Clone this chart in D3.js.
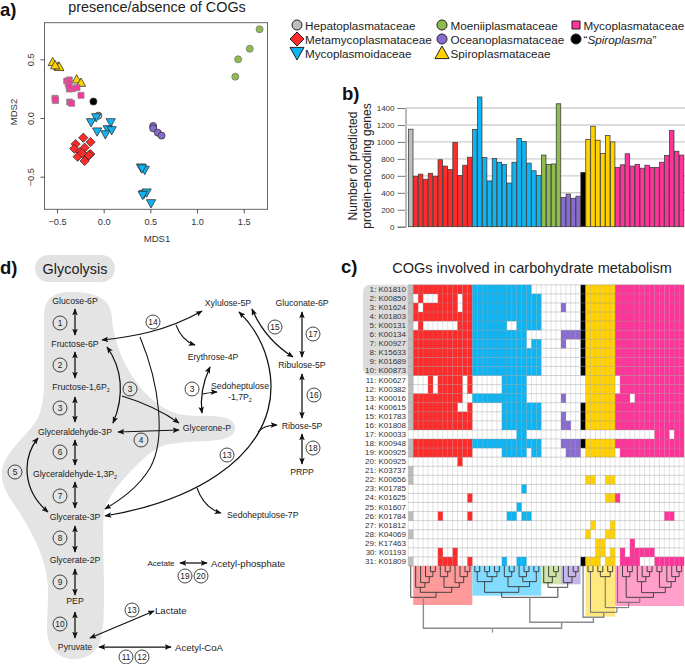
<!DOCTYPE html>
<html><head><meta charset="utf-8">
<script src="https://cdn.jsdelivr.net/npm/d3@7"></script>
<style>
html,body{margin:0;padding:0;background:#fff}
svg{display:block}
text{font-family:"Liberation Sans",Arial,sans-serif}
</style></head><body><svg id="c" width="685" height="664"></svg>
<script>
// ---------- data ----------
const families = ["Hepatoplasmataceae","Metamycoplasmataceae","Mycoplasmoidaceae","Moeniiplasmataceae","Oceanoplasmataceae","Spiroplasmataceae","Mycoplasmataceae","Spiroplasma"];
const familySymbols = ["circle","diamond","triDown","circle","circle","triUp","square","circle"];
const familyColors = ["#bdbdbd","#ff2b2b","#0fb4f2","#8fbd4c","#8a6bd0","#ffd200","#ff3399","#000000"];

const mdsHepato = [[-0.057,0.02]];
const mdsMeta = [[-0.218,-0.168],[-0.14,-0.205],[-0.3,-0.222],[-0.315,-0.261],[-0.204,-0.253],[-0.254,-0.29],[-0.279,-0.33],[-0.143,-0.307],[-0.175,-0.33],[-0.16,-0.318],[-0.204,-0.366],[-0.23,-0.3]];
const mdsMycoides = [[-0.08,0.005],[-0.135,-0.037],[0.075,-0.037],[-0.07,-0.116],[0.043,-0.097],[0.085,-0.105],[0.018,-0.14],[0.4,-0.423],[0.44,-0.443],[0.43,-0.648],[0.46,-0.636],[0.507,-0.727],[0.418,-0.656],[0.41,-0.43]];
const mdsMoenii = [[1.67,0.756],[1.565,0.59],[1.44,0.5],[1.41,0.352]];
const mdsOcean = [[0.53,-0.068],[0.53,-0.088],[0.58,-0.125],[0.62,-0.15]];
const mdsSpiro = [[-0.546,0.477],[-0.486,0.44],[-0.476,0.437],[-0.289,0.33],[-0.243,0.301],[-0.52,0.45]];
const mdsMyco = [[-0.396,0.315],[-0.368,0.324],[-0.379,0.29],[-0.368,0.247],[-0.286,0.259],[-0.243,0.193],[-0.521,0.168],[-0.515,0.148],[-0.364,0.136],[-0.343,0.125],[-0.37,0.3],[-0.33,0.25],[-0.52,0.16],[-0.37,0.27]];
const mdsSpiroplasma = [[-0.11,0.14]];
const mdsByFamily = [mdsHepato,mdsMeta,mdsMycoides,mdsMoenii,mdsOcean,mdsSpiro,mdsMyco,mdsSpiroplasma];
const mdsDrawOrder = [0,1,3,4,5,6,7,2];
const xTicksA = [-0.5,0,0.5,1,1.5];
const yTicksA = [-0.5,0,0.5];

const genesHepato = [1150];
const genesMeta = [595,620,560,630,595,790,715,675,995,605,725,820];
const genesMycoides = [1145,1530,815,540,805,760,735,515,760,1040,1005,750,660,605];
const genesMoenii = [845,735,740,1450];
const genesOcean = [345,385,335,360];
const genesSpiroplasma = [640];
const genesSpiro = [1030,1185,1020,865,1075,1000];
const genesMyco = [700,730,860,715,735,690,725,700,700,760,840,1135,890,845];
const genesOrder = [[genesHepato,0],[genesMeta,1],[genesMycoides,2],[genesMoenii,3],[genesOcean,4],[genesSpiroplasma,7],[genesSpiro,5],[genesMyco,6]];
const yTicksB = [0,200,400,600,800,1000,1200,1400];

const cogLabels = ["K01810","K00850","K01624","K01803","K00131","K00134","K00927","K15633","K01689","K00873","K00627","K00382","K00016","K00615","K01783","K01808","K00033","K00948","K00925","K00925","K03737","K00656","K01785","K01625","K01607","K01784","K01812","K04069","K17463","K01193","K01809"];
// present genome columns per COG (single indexes or [from,to] ranges)
const cogPresence = [
 [[0,24],[35,55]],
 [0,2,[6,9],[11,26],[35,55]],
 [0,1,[3,9],[11,26],31,[35,55]],
 [[0,26],[35,55]],
 [0,2,[10,19],[22,26],[35,55]],
 [[0,23],[31,55]],
 [[0,23],25,26,31,[35,55]],
 [[0,26],[35,55]],
 [[0,26],[35,55]],
 [[0,26],[35,55]],
 [0,4,[6,10],12,[19,23],[36,41],[43,55]],
 [0,4,[6,10],12,[19,23],[36,41],[43,55]],
 [[0,10],[13,23],31,[36,44],[46,55]],
 [[0,9],12,[19,26],[35,55]],
 [[0,12],[19,26],31,[35,55]],
 [[0,12],[19,26],31,32,[35,55]],
 [22,23,[50,52],54,55],
 [[0,26],[31,55]],
 [[0,12],[19,23],25,26,[32,34],[36,41],[43,55]],
 [10],
 [0],
 [0,36,37,40,41],
 [23],
 [12,40,41,42],
 [22],
 [0,6,12,20,21,23,24,52,53],
 [37,41],
 [0,36,40,41],
 [38,39,45],
 [6,9,38,39,41,43,[45,49]],
 [0,[6,9],12,19,22,23,35,36,37,38,40,41,[43,46],[50,55]]
];
// dendrogram: [merge depth, left, right]; leaves are genome column indexes
const treeMetaLeft = [82,1,[68,2,[50,3,[35,4,5]]]];
const treeMetaRight = [82,[50,6,[35,7,8]],[68,9,[50,10,[35,11,12]]]];
const treeMeta = [112,0,[97,treeMetaLeft,treeMetaRight]];
const treeMycoides = [97,[65,[35,13,14],[50,[35,15,16],[35,17,18]]],[80,[50,19,[35,20,21]],[65,[50,22,[35,23,24]],[35,25,26]]]];
const treeMoenii = [68,27,[50,28,[35,29,30]]];
const treeOcean = [68,31,[50,32,[35,33,34]]];
const treeSpiro1 = [35,36,37];
const treeSpiro2 = [50,[35,38,39],[35,40,41]];
const treeMyco = [127,42,[112,[50,43,[35,44,45]],[98,[65,46,[50,47,[35,48,49]]],[82,[35,50,51],[65,52,[50,53,[35,54,55]]]]]]];
const treeRest = [187,[112,treeMycoides,[82,treeMoenii,treeOcean]],[172,35,[157,treeSpiro1,[143,treeSpiro2,treeMyco]]]];
const treeRoot = [205,treeMeta,treeRest];
const treeBands = [[1,12,135],[13,26,107],[27,30,73],[31,34,73],[36,41,170],[42,55,138]];
const treeBandColors = ["#ff9a9a","#82dcff","#d0e4a9","#c6b6e9","#ffe97e","#ff9fca"];

// ---------- helpers ----------
const svg = d3.select("#c");
function addSym(g, kind, x, y, r, fill, stroke, sw){
  let d;
  if(kind==="circle") d=`M${x-r},${y}a${r},${r} 0 1,0 ${2*r},0a${r},${r} 0 1,0 ${-2*r},0Z`;
  if(kind==="diamond"){const q=r*1.25;d=`M${x},${y-q}L${x+q},${y}L${x},${y+q}L${x-q},${y}Z`;}
  if(kind==="square") d=`M${x-r},${y-r}h${2*r}v${2*r}h${-2*r}Z`;
  if(kind==="triUp"){const q=r*1.25;d=`M${x},${y-q}L${x+q},${y+q*.8}L${x-q},${y+q*.8}Z`;}
  if(kind==="triDown"){const q=r*1.25;d=`M${x},${y+q}L${x+q},${y-q*.8}L${x-q},${y-q*.8}Z`;}
  g.append("path").attr("d",d).attr("fill",fill).attr("stroke",stroke).attr("stroke-width",sw);
}
function label(t,x,y,size,opts={}){
  const s=svg.append("text").attr("x",x).attr("y",y).attr("font-size",size).attr("fill",opts.fill||"#111")
   .attr("text-anchor",opts.anchor||"start").attr("dominant-baseline","central");
  if(opts.weight) s.attr("font-weight",opts.weight);
  if(opts.rot!==undefined) s.attr("transform",`rotate(${opts.rot} ${x} ${y})`);
  s.text(t); return s;
}
label("a)",0,9,18.5,{weight:"bold"});
label("b)",342,93,18.5,{weight:"bold"});
label("c)",341,266,18.5,{weight:"bold"});
label("d)",0,267,18.5,{weight:"bold"});

// ---------- panel a ----------
label("presence/absence of COGs",157,7,14.4,{anchor:"middle",fill:"#222"});
const xA=d3.scaleLinear().domain([-0.5,1.5]).range([57,243.7]);
const yA=d3.scaleLinear().domain([-0.5,0.5]).range([176.7,59.3]);
const gA=svg.append("g");
mdsDrawOrder.forEach(i=>{
  const sizes={circle:3.5,diamond:3.7,triDown:3.7,triUp:3.7,square:3};
  mdsByFamily[i].forEach(p=>{
    const st=(i===6)?"#8a8a8a":(i===3?"#777":"#333");
    addSym(gA,familySymbols[i],xA(p[0]),yA(p[1]),sizes[familySymbols[i]],familyColors[i],st,0.8);
  });
});
const ax=svg.append("g").attr("transform","translate(0,209.3)").call(d3.axisBottom(xA).tickValues(xTicksA).tickSize(4).tickFormat(d3.format(".1f")));
const ay=svg.append("g").attr("transform","translate(44.5,0)").call(d3.axisLeft(yA).tickValues(yTicksA).tickSize(4).tickFormat(d3.format(".1f")));
[ax,ay].forEach(a=>{a.select(".domain").remove();a.selectAll("line").attr("stroke","#555");a.selectAll("text").attr("font-size",9.2).attr("fill","#333");});
ax.selectAll("text").attr("dy","0.9em");
ay.selectAll("text").attr("transform","rotate(-90)").attr("x",0).attr("y",-11).attr("dy",0).attr("text-anchor","middle");
svg.append("rect").attr("x",44.5).attr("y",22.7).attr("width",223).attr("height",186.6).attr("fill","none").attr("stroke","#555").attr("stroke-width",0.9);
label("MDS1",157,238,9.6,{anchor:"middle",fill:"#333"});
label("MDS2",13,112,9.6,{anchor:"middle",rot:-90,fill:"#333"});

// legend
const legendLayout=[[297,305,25],[297,305,39],[297,305,53],[442,450.5,25],[442,450.5,39],[442,450.5,53],[576,583.5,25],[576,583.5,39]];
const gL=svg.append("g");
families.forEach((f,i)=>{
  const [sx,tx,y]=legendLayout[i];
  const k=familySymbols[i];
  addSym(gL,k,sx,y,k==="square"?4:(k==="circle"?5:5.6),familyColors[i],"#222",1);
  if(i===7){
    const t=label("",tx,y,11.7,{fill:"#222"});
    t.append("tspan").text("“");
    t.append("tspan").attr("font-style","italic").text(f);
    t.append("tspan").text("”");
  } else label(f,tx,y,11.7,{fill:"#222"});
});

// ---------- panel b ----------
const colCount=56, heatL=408.3, colW=4.924;
const xCol=d3.scaleLinear().domain([0,colCount]).range([heatL,heatL+colCount*colW]);
const yB=d3.scaleLinear().domain([0,1400]).range([226.7,108]);
const axB=svg.append("g").attr("transform","translate(405.5,0)").call(d3.axisLeft(yB).tickValues(yTicksB).tickSize(8).tickFormat(d3.format("d")));
axB.select(".domain").attr("stroke","#777");
axB.selectAll("line").attr("stroke","#777");
axB.selectAll("text").attr("font-size",8).attr("fill","#333");
svg.append("g").selectAll("line").data(yTicksB.slice(1)).join("line")
  .attr("x1",405.5).attr("x2",685).attr("y1",d=>yB(d)).attr("y2",d=>yB(d)).attr("stroke","#cfcfcf").attr("stroke-width",1.4);
const barRows=[];let col=0;
genesOrder.forEach(([arr,fam])=>arr.forEach(v=>barRows.push({c:col++,v,fam})));
svg.append("g").selectAll("rect").data(barRows).join("rect")
  .attr("x",d=>xCol(d.c)+0.2).attr("width",colW-0.4).attr("y",d=>yB(d.v)).attr("height",d=>yB(0)-yB(d.v))
  .attr("fill",d=>familyColors[d.fam]).attr("stroke","#3a3a3a").attr("stroke-width",0.75);
label("Number of predicted",353,166,12,{anchor:"middle",rot:-90,fill:"#222"});
label("protein-encoding genes",367,166,12,{anchor:"middle",rot:-90,fill:"#222"});

// ---------- panel c ----------
label("COGs involved in carbohydrate metabolism",532,268,14.5,{anchor:"middle",fill:"#222"});
const rowH=9.07, heatT=284.8;
const yRow=d3.scaleLinear().domain([0,31]).range([heatT,heatT+31*rowH]);
svg.append("rect").attr("x",363).attr("y",heatT).attr("width",50).attr("height",rowH*10).attr("rx",7).attr("fill","#dcdcdc");
function famOfCol(c){ let n=0; for(const [arr,f] of genesOrder){ n+=arr.length; if(c<n) return f; } }
const cells=[];
cogPresence.forEach((row,r)=>row.forEach(e=>{
  const [a,b]=Array.isArray(e)?e:[e,e];
  for(let c=a;c<=b;c++) cells.push({r,c});
}));
svg.append("rect").attr("x",heatL).attr("y",heatT).attr("width",colCount*colW).attr("height",31*rowH).attr("fill","#fff");
svg.append("g").selectAll("rect").data(cells).join("rect")
  .attr("x",d=>xCol(d.c)).attr("width",colW+0.1).attr("y",d=>yRow(d.r)).attr("height",rowH+0.1)
  .attr("fill",d=>familyColors[famOfCol(d.c)]);
const gGrid=svg.append("g").attr("stroke","#8f8f8f");
gGrid.selectAll("line.h").data(d3.range(32)).join("line").attr("class","h")
  .attr("x1",heatL).attr("x2",heatL+colCount*colW).attr("y1",d=>yRow(d)).attr("y2",d=>yRow(d)).attr("stroke-width",0.6).attr("stroke-opacity",0.65);
gGrid.selectAll("line.v").data(d3.range(colCount+1)).join("line").attr("class","v")
  .attr("x1",d=>xCol(d)).attr("x2",d=>xCol(d)).attr("y1",heatT).attr("y2",heatT+31*rowH).attr("stroke-width",0.5).attr("stroke-opacity",0.5);
svg.append("g").selectAll("text").data(cogLabels).join("text")
  .attr("x",406).attr("y",(d,i)=>yRow(i+0.5)).attr("text-anchor","end").attr("dominant-baseline","central")
  .attr("font-size",8).attr("fill","#333").text((d,i)=>`${i+1}: ${d}`);

// dendrogram
const yTree=d3.scaleLinear().domain([0,205]).range([560,628.3]);
const colC=c=>xCol(c+0.5), treeTop=566;
svg.append("g").selectAll("rect").data(treeBands).join("rect")
  .attr("x",d=>xCol(d[0])).attr("width",d=>xCol(d[1]+1)-xCol(d[0]))
  .attr("y",treeTop).attr("height",d=>yTree(d[2])-treeTop)
  .attr("fill",(d,i)=>treeBandColors[i]);
const gT=svg.append("g").attr("fill","none");
function drawTree(n){
  if(typeof n==="number") return {x:colC(n),y:treeTop};
  const l=drawTree(n[1]), r=drawTree(n[2]), y=yTree(n[0]);
  const heavy=n[0]>=172, mid=n[0]>=127;
  const st=heavy?"#8c8c8c":(mid?"#666":"#3c3c3c");
  gT.append("path").attr("d",`M${l.x},${l.y}V${y}H${r.x}V${r.y}`).attr("stroke",st).attr("stroke-width",heavy?1.4:0.95);
  return {x:(l.x+r.x)/2,y};
}
const rootPos=drawTree(treeRoot);
gT.append("path").attr("d",`M${rootPos.x},${rootPos.y}V${yTree(218)}`).attr("stroke","#8c8c8c").attr("stroke-width",1.2);

// ---------- panel d ----------
const blobPath="M44,316 C44,298 55,292 70,292 C92,292 111,296 112,318 C113,338 122,362 136,382 C148,398 160,408 178,414 C192,417 210,415 222,417 C232,419 236,424 235,430 C233,438 222,440 208,441 C190,442 172,442 160,447 C150,452 143,459 134,468 C120,482 108,496 104,512 C102,530 104,560 104,590 C104,612 104,632 99,645 C92,657 80,660 70,659 C55,656 47,646 47,628 C47,608 50,590 46,572 C42,552 32,532 18,510 C10,498 0,486 2,470 C4,457 20,440 32,427 C42,415 44,400 44,380 Z";
const gD=svg.append("g");
gD.append("path").attr("d",blobPath).attr("fill","#e4e4e4");
gD.append("rect").attr("x",35).attr("y",255).attr("width",80).attr("height",27).attr("rx",13.5).attr("fill","#e2e2e2");
label("Glycolysis",75,269,14.4,{anchor:"middle",fill:"#222"});

const defs=svg.append("defs");
defs.append("marker").attr("id","ah").attr("viewBox","0 0 10 8").attr("refX",9).attr("refY",4)
  .attr("markerWidth",7).attr("markerHeight",5.6).attr("markerUnits","userSpaceOnUse").attr("orient","auto-start-reverse")
  .append("path").attr("d","M0,0L10,4L0,8L2.2,4Z").attr("fill","#111");

const pathwayText=[
 ["Glucose-6P",75,300.7,8.7,"middle"],["Fructose-6P",75,344,8.7,"middle"],["Glyceraldehyde-3P",75,432,8.7,"middle"],
 ["Glycerone-P",207,428,8.7,"middle"],["Glycerate-3P",75,517,8.7,"middle"],["Glycerate-2P",75,560,8.7,"middle"],
 ["PEP",75,601,8.7,"middle"],["Pyruvate",75,647,8.7,"middle"],["Lactate",155,610,9.6,"start"],["Acetyl-CoA",175,647,9.6,"start"],
 ["Acetate",161,563,8,"middle"],["Acetyl-phosphate",211,563,9.6,"start"],["Sedoheptulose-7P",227,515,8.7,"start"],
 ["PRPP",302,472,8.7,"middle"],["Ribose-5P",302,426,8.7,"middle"],["Ribulose-5P",302,365,8.7,"middle"],
 ["Gluconate-6P",302,303,8.7,"middle"],["Xylulose-5P",228,303,8.7,"middle"],["Erythrose-4P",213,357,8.7,"middle"],
 ["Sedoheptulose",240,386,8.7,"middle"]
];
pathwayText.forEach(([t,x,y,s,a])=>label(t,x,y,s,{anchor:a,fill:"#222"}));
function subLabel(base,sub,x,y,anchor){
  const t=label("",x,y,8.7,{anchor,fill:"#222"});
  t.append("tspan").text(base);
  t.append("tspan").attr("font-size",5.5).attr("dy",2.5).text(sub);
}
subLabel("Fructose-1,6P","2",81,387,"middle");
subLabel("Glyceraldehyde-1,3P","2",75,474,"middle");
subLabel("-1,7P","2",240,397,"middle");

const straightDouble=[[75,309,75,335],[75,352,75,378],[75,397,75,422],[75,440,75,465],[75,482,75,508],[75,526,75,552],[75,569,75,595],[75,612,75,638],
 [302,312,302,357],[302,374,302,418],[302,434,302,464],[180,563,207,563],[90,638,154,611],[99,647,171,647],[118,432,179,430]];
const gA2=gD.append("g").attr("fill","none").attr("stroke","#111").attr("stroke-width",1.25);
straightDouble.forEach(([a,b,c,d])=>gA2.append("line").attr("x1",a).attr("y1",b).attr("x2",c).attr("y2",d)
  .attr("marker-start","url(#ah)").attr("marker-end","url(#ah)"));
const curvedDouble=[
 "M102,340 C130,337 165,332 202,311",
 "M107,347 C122,368 125,395 113,423",
 "M38,438 C22,458 22,490 48,512",
 "M210,367 C203,382 200,398 202,413",
 "M239,312 C268,340 276,380 268,410 C255,458 200,500 105,516",
 "M252,309 C260,328 274,345 293,357"
];
curvedDouble.forEach(d=>gA2.append("path").attr("d",d).attr("marker-start","url(#ah)").attr("marker-end","url(#ah)"));
const curvedSingle=[
 "M140,337 C160,385 166,440 150,468 C138,488 120,500 105,509",
 "M176,325 C180,336 186,342 195,345",
 "M122,396 C145,403 165,413 179,423",
 "M203,394 C208,393 212,392 217,392",
 "M258,432 C263,426 270,425 277,425",
 "M197,488 C202,502 210,510 221,513"
];
curvedSingle.forEach(d=>gA2.append("path").attr("d",d).attr("stroke-width",1.05).attr("marker-end","url(#ah)"));

const pathwaySteps=[[1,60,323],[2,60,365],[3,60,408],[6,60,452],[7,60,496],[8,60,538],[9,60,582],[10,60,624],[5,15,472],[14,153,322],[3,130,389],[4,141,440],[3,192,389],[15,275,327],[17,313,334],[16,314,395],[18,313,448],[13,227,455],[19,185,576],[20,201,576],[13,132,610],[11,126,657],[12,142,657]];
pathwaySteps.forEach(([n,x,y])=>{
  svg.append("circle").attr("cx",x).attr("cy",y).attr("r",7).attr("fill","none").attr("stroke","#222").attr("stroke-width",0.85);
  label(String(n),x,y,8.4,{anchor:"middle",fill:"#222"});
});
</script></body></html>
